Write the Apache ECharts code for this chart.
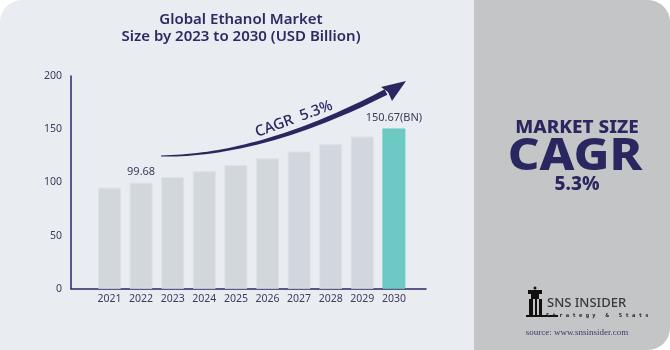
<!DOCTYPE html>
<html><head><meta charset="utf-8">
<script src="https://cdn.jsdelivr.net/npm/echarts@6/dist/echarts.min.js"></script>
<style>html,body{margin:0;padding:0;background:#fff}#c{width:670px;height:350px}</style>
</head><body><div id="c"></div>
<script>
const years = ['2021','2022','2023','2024','2025','2026','2027','2028','2029','2030'];
const marketSize = [95.0, 99.68, 105.0, 110.5, 116.4, 122.6, 129.1, 135.9, 143.1, 150.67];
const yTicks = {min: 0, max: 200, interval: 50};
const labelledPoints = {'2022': '99.68', '2030': '150.67(BN)'};

const chart = echarts.init(document.getElementById('c'), null, {renderer: 'canvas'});
const navy = '#2a2760';
const txt = '#3c3b5e';

// build arrow band (decoration)
function arrowBand() {
  const P0 = [161, 156], P1 = [262, 156], P2 = [386, 92];
  const up = [], dn = [];
  const N = 40;
  for (let i = 0; i <= N; i++) {
    const t = i / N;
    const x = (1-t)*(1-t)*P0[0] + 2*(1-t)*t*P1[0] + t*t*P2[0];
    const y = (1-t)*(1-t)*P0[1] + 2*(1-t)*t*P1[1] + t*t*P2[1];
    const dx = 2*(1-t)*(P1[0]-P0[0]) + 2*t*(P2[0]-P1[0]);
    const dy = 2*(1-t)*(P1[1]-P0[1]) + 2*t*(P2[1]-P1[1]);
    const l = Math.hypot(dx, dy);
    const nx = -dy / l, ny = dx / l;
    const w = 0.6 + 2.4 * t;
    up.push([x - nx*w, y - ny*w]);
    dn.push([x + nx*w, y + ny*w]);
  }
  return up.concat(dn.reverse());
}

const option = {
  animation: false,
  backgroundColor: '#ffffff',
  title: {
    text: 'Global Ethanol Market\nSize by 2023 to 2030 (USD Billion)',
    left: 236, top: 6, textAlign: 'center',
    textStyle: {color: '#2e2a63', fontSize: 15, fontWeight: 600, fontFamily: 'Noto Sans', lineHeight: 17}
  },
  graphic: [
    {type: 'rect', z: -10, shape: {x: 0, y: 0, width: 480, height: 350, r: [22, 0, 0, 0]}, style: {fill: '#e9ecf1'}},
    {type: 'rect', z: -9, shape: {x: 474, y: 0, width: 196, height: 350, r: [0, 22, 22, 0]}, style: {fill: '#c4c5c7'}},
    {type: 'polygon', z: 5, shape: {points: arrowBand()}, style: {fill: navy}},
    {type: 'polygon', z: 5, shape: {points: [[406, 81], [381, 87], [388, 92], [392, 101]]}, style: {fill: navy}},
    {type: 'text', z: 6, x: 294, y: 119, rotation: 0.35,
      style: {text: 'CAGR  5.3%', fill: navy, fontSize: 15, fontWeight: 500, fontFamily: 'Noto Sans', align: 'center', verticalAlign: 'middle'}},
    {type: 'text', z: 6, x: 577, y: 128, scaleX: 1.05, style: {text: 'MARKET SIZE', fill: navy, fontSize: 18, fontWeight: 800, fontFamily: 'Noto Sans', align: 'center', verticalAlign: 'middle'}},
    {type: 'text', z: 6, x: 575, y: 157, scaleX: 1.12, style: {text: 'CAGR', fill: navy, fontSize: 44, fontWeight: 800, fontFamily: 'Noto Sans', align: 'center', verticalAlign: 'middle'}},
    {type: 'text', z: 6, x: 577, y: 185, style: {text: '5.3%', fill: navy, fontSize: 19, fontWeight: 800, fontFamily: 'Noto Sans', align: 'center', verticalAlign: 'middle'}},
    // logo icon (rook)
    {type: 'rect', z: 6, shape: {x: 528, y: 290, width: 14, height: 4}, style: {fill: '#111'}},
    {type: 'rect', z: 6, shape: {x: 531, y: 294, width: 8, height: 5}, style: {fill: '#111'}},
    {type: 'rect', z: 6, shape: {x: 529, y: 299, width: 4, height: 17}, style: {fill: '#111'}},
    {type: 'rect', z: 6, shape: {x: 535, y: 299, width: 2, height: 17}, style: {fill: '#111'}},
    {type: 'rect', z: 6, shape: {x: 539, y: 299, width: 3, height: 17}, style: {fill: '#111'}},
    {type: 'rect', z: 6, shape: {x: 526, y: 315, width: 32, height: 2}, style: {fill: '#111'}},
    {type: 'circle', z: 6, shape: {cx: 535, cy: 288, r: 1.5}, style: {fill: '#111'}},
    {type: 'text', z: 6, x: 547, y: 303, style: {text: 'SNS INSIDER', fill: '#3a3a3a', fontSize: 13, fontFamily: 'Noto Sans', fontWeight: 500, verticalAlign: 'middle'}},
    {type: 'text', z: 6, x: 546, y: 316, style: {text: 'S t r a t e g y   &   S t a t s', fill: '#222', fontSize: 5.5, fontFamily: 'DejaVu Sans Mono', fontWeight: 700, verticalAlign: 'middle'}},
    {type: 'text', z: 6, x: 577, y: 333, style: {text: 'source: www.snsinsider.com', fill: '#3a3a6a', fontSize: 9, fontFamily: 'Liberation Serif', align: 'center', verticalAlign: 'middle'}}
  ],
  grid: [
    {left: 93.7, right: 260.3, top: 76, bottom: 61.3},
    {left: 71, right: 244, top: 76, bottom: 61.3}
  ],
  xAxis: [
    {type: 'category', data: years, gridIndex: 0, boundaryGap: true,
      axisLine: {show: false}, axisTick: {show: false},
      axisLabel: {interval: 0, color: txt, fontSize: 10.5, fontFamily: 'Noto Sans', margin: 5}},
    {type: 'value', gridIndex: 1, min: 0, max: 1, show: true,
      axisLine: {show: true, lineStyle: {color: navy, width: 1.5}}, axisTick: {show: false},
      axisLabel: {show: false}, splitLine: {show: false}}
  ],
  yAxis: [
    {type: 'value', gridIndex: 0, min: yTicks.min, max: yTicks.max, interval: yTicks.interval, offset: 22.7,
      axisLine: {show: true, lineStyle: {color: navy, width: 1.5}}, axisTick: {show: false},
      splitLine: {show: false},
      axisLabel: {color: txt, fontSize: 10.5, fontFamily: 'Noto Sans', margin: 9}},
    {type: 'value', gridIndex: 1, min: 0, max: 1, show: false}
  ],
  series: [{
    type: 'bar', xAxisIndex: 0, yAxisIndex: 0, barWidth: 23, z: 3,
    data: marketSize.map((v, i) => ({
      value: v,
      itemStyle: {color: i === marketSize.length - 1 ? '#6cc9c4' : '#d1d7dd',
                  borderColor: i === marketSize.length - 1 ? '#6cc9c4' : '#dde2e7', borderWidth: 1},
      label: labelledPoints[years[i]] ? {show: true, position: 'top', distance: 5,
        formatter: labelledPoints[years[i]], color: txt, fontSize: 11, fontFamily: 'Noto Sans'} : {show: false}
    }))
  }]
};
chart.setOption(option);
</script></body></html>
